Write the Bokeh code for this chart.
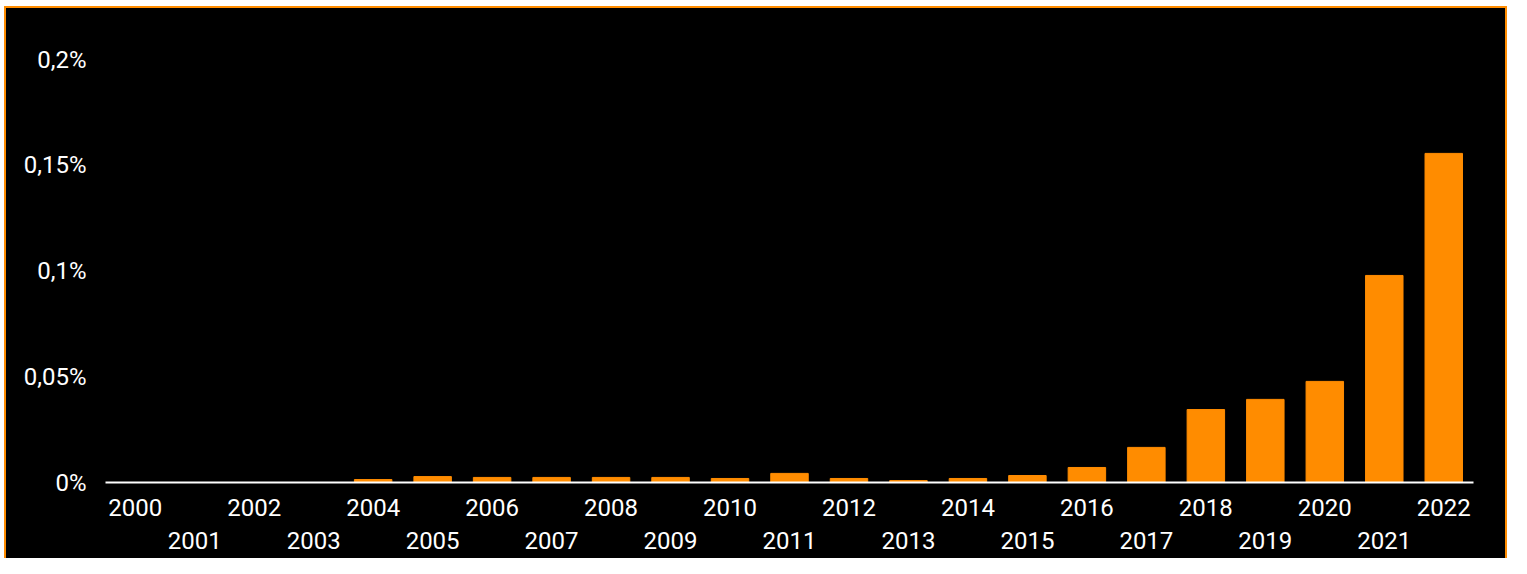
from bokeh.plotting import figure
from bokeh.models import Range1d, FixedTicker, LinearAxis
from bokeh.embed import file_html
from bokeh.resources import INLINE

years = list(range(2000, 2023))
share = [0.0, 0.0, 0.0, 0.0, 0.0014, 0.0028, 0.0024, 0.0024, 0.0024, 0.0024,
         0.0019, 0.0043, 0.0019, 0.0009, 0.0019, 0.0033, 0.0071, 0.0166,
         0.0345, 0.0393, 0.0478, 0.0979, 0.1556]
y_ticks = [0, 0.05, 0.1, 0.15, 0.2]
y_labels = ["0%", "0,05%", "0,1%", "0,15%", "0,2%"]
even_years = [y for y in years if y % 2 == 0]
odd_years = [y for y in years if y % 2 == 1]

ORANGE = "#FF8C00"
FONT = "Roboto"
FS = "24px"

p = figure(width=1503, height=552, x_range=Range1d(years[0] - 0.5, years[-1] + 0.5),
           y_range=Range1d(0, 0.2), output_backend="svg", toolbar_location=None,
           background_fill_color="black", border_fill_color="black",
           min_border_left=99, min_border_right=36, min_border_top=51, min_border_bottom=78,
           styles={"border-top": "2px solid " + ORANGE, "border-left": "2px solid " + ORANGE,
                   "border-right": "2px solid " + ORANGE,
                   "background-color": "black",
                   "margin-left": "4px", "margin-top": "6px"})
p.outline_line_color = None
p.grid.visible = False

p.vbar(x=years, top=share, width=0.63, color=ORANGE)

def style_x(ax, ticks, standoff):
    ax.ticker = FixedTicker(ticks=ticks)
    ax.major_tick_line_color = None
    ax.minor_tick_line_color = None
    ax.major_tick_out = 0
    ax.major_tick_in = 0
    ax.major_label_standoff = standoff
    ax.major_label_text_color = "white"
    ax.major_label_text_font = FONT
    ax.major_label_text_font_size = FS

xa = p.xaxis[0]
style_x(xa, even_years, 16)
xa.axis_line_color = "white"
xa.axis_line_width = 2

xb = LinearAxis()
style_x(xb, odd_years, 13)
xb.axis_line_color = None
p.add_layout(xb, "below")

ya = p.yaxis[0]
ya.ticker = FixedTicker(ticks=y_ticks)
ya.major_label_overrides = dict(zip(y_ticks, y_labels))
ya.axis_line_color = None
ya.major_tick_line_color = None
ya.minor_tick_line_color = None
ya.major_tick_out = 0
ya.major_label_standoff = 19
ya.major_label_text_color = "white"
ya.major_label_text_font = FONT
ya.major_label_text_font_size = FS

open("out.html", "w").write(file_html(p, INLINE))
